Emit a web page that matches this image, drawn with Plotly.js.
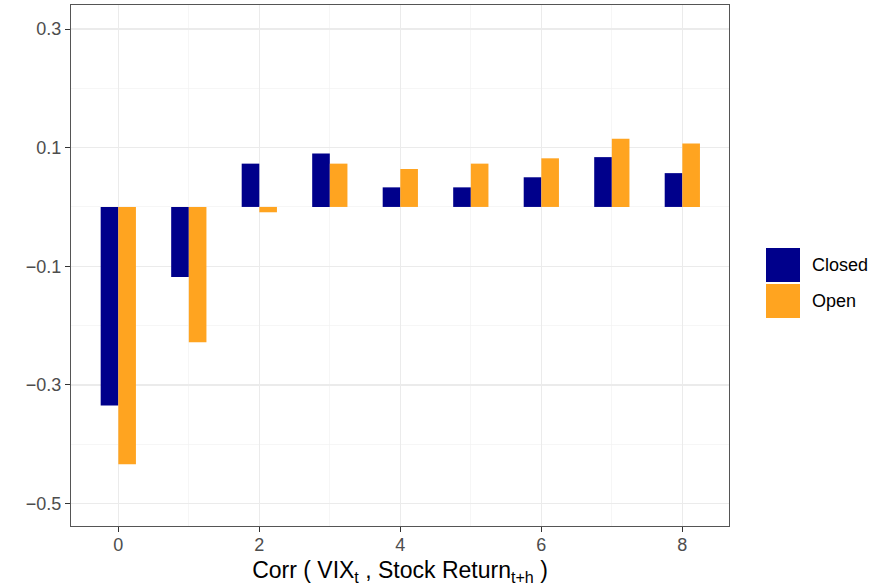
<!DOCTYPE html>
<html>
<head>
<meta charset="utf-8">
<script src="https://cdn.plot.ly/plotly-3.0.1.min.js"></script>
<style>html,body{margin:0;padding:0;background:#fff;}#chart{width:878px;height:588px;}</style>
</head>
<body>
<div id="chart"></div>
<script>
const horizons = [0, 1, 2, 3, 4, 5, 6, 7, 8];
const closedVals = [-0.335, -0.118, 0.073, 0.090, 0.033, 0.033, 0.050, 0.084, 0.057];
const openVals = [-0.434, -0.228, -0.009, 0.073, 0.064, 0.073, 0.082, 0.115, 0.107];
const seriesNames = ["Closed", "Open"];
const seriesColors = ["#00008B", "#FFA420"];
const yTicks = [-0.5, -0.3, -0.1, 0.1, 0.3];
const xTicks = [0, 2, 4, 6, 8];

const font = "Liberation Sans, Arial, Helvetica, sans-serif";
const traces = [closedVals, openVals].map((vals, i) => ({
  type: "bar",
  name: seriesNames[i],
  x: horizons,
  y: vals,
  marker: {color: seriesColors[i], line: {width: 0}},
  showlegend: false,
  hoverinfo: "x+y+name"
}));

// legend drawn with shapes (ggplot-sized keys)
const L = 71, R = 729, T = 5, B = 526;
const px = v => (v - L) / (R - L);
const py = v => (B - v) / (B - T);
const shapes = [];
const annotations = [];
seriesNames.forEach((n, i) => {
  const top = 248 + i * 36;
  shapes.push({type: "rect", xref: "paper", yref: "paper",
    x0: px(766), x1: px(800), y0: py(top + 34), y1: py(top),
    fillcolor: seriesColors[i], line: {width: 0}});
  annotations.push({xref: "paper", yref: "paper", x: px(810), y: py(top + 17),
    xanchor: "left", yanchor: "middle", showarrow: false, text: n,
    font: {family: font, size: 18, color: "#000"}});
});

const layout = {
  width: 878, height: 588,
  margin: {l: 71, r: 149, t: 5, b: 62},
  paper_bgcolor: "#fff", plot_bgcolor: "#fff",
  barmode: "group", bargap: 0.5, bargroupgap: 0,
  font: {family: font},
  xaxis: {
    range: [-0.671, 8.662], tickvals: xTicks, ticktext: xTicks.map(String),
    showgrid: true, gridcolor: "#ebebeb", gridwidth: 1.3,
    minor: {dtick: 1, tick0: 0, showgrid: true, gridcolor: "#f2f2f2", gridwidth: 0.7, ticks: ""},
    zeroline: false, showline: true, linecolor: "#555", linewidth: 1, mirror: true,
    ticks: "outside", ticklen: 5, tickcolor: "#333", tickwidth: 1, ticklabelstandoff: -3,
    tickfont: {family: font, size: 18, color: "#4d4d4d"},
    title: {text: "Corr ( VIX<sub>t</sub> , Stock Return<sub>t+h</sub> )", font: {family: font, size: 23, color: "#000"}, standoff: 8}
  },
  yaxis: {
    range: [-0.538, 0.3405], tickvals: yTicks, ticktext: yTicks.map(v => v.toFixed(1).replace("-", "\u2212")),
    showgrid: true, gridcolor: "#ebebeb", gridwidth: 1.3,
    minor: {dtick: 0.1, tick0: 0, showgrid: true, gridcolor: "#f2f2f2", gridwidth: 0.7, ticks: ""},
    zeroline: false, showline: true, linecolor: "#555", linewidth: 1, mirror: true,
    ticks: "outside", ticklen: 5, tickcolor: "#333", tickwidth: 1,
    tickfont: {family: font, size: 18, color: "#4d4d4d"}
  },
  shapes: shapes,
  annotations: annotations
};

Plotly.newPlot("chart", traces, layout, {displayModeBar: false, staticPlot: true});
</script>
</body>
</html>
